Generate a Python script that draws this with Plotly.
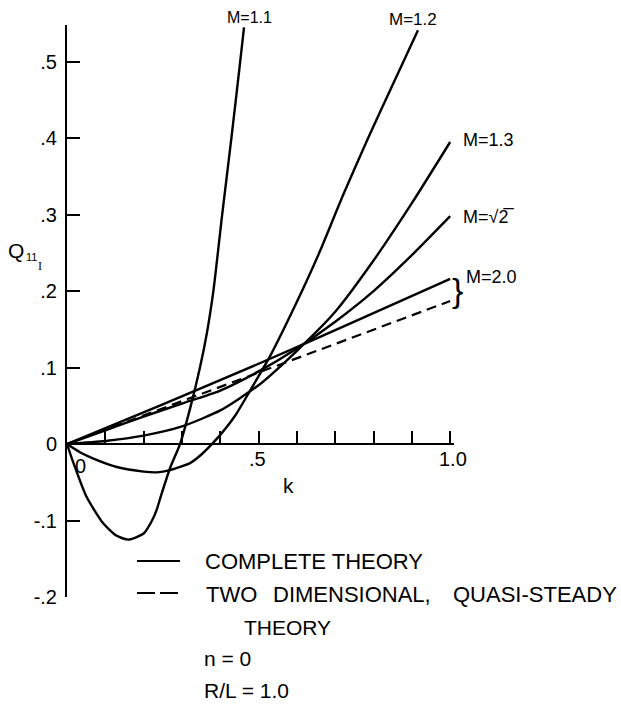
import plotly.graph_objects as go

# Reduced frequency k and generalized force coefficient Q for each Mach number
k_m11 = [0, 0.017, 0.051, 0.095, 0.13, 0.16, 0.2, 0.222, 0.234, 0.245, 0.27, 0.295,
         0.322, 0.347, 0.365, 0.382, 0.405, 0.429, 0.452, 0.462]
q_m11 = [0, -0.025, -0.069, -0.104, -0.12, -0.125, -0.117, -0.1, -0.086, -0.068, -0.03, 0,
         0.048, 0.1, 0.145, 0.2, 0.3, 0.4, 0.5, 0.545]

k_m12 = [0, 0.035, 0.069, 0.13, 0.2, 0.235, 0.269, 0.321, 0.35, 0.378, 0.4, 0.44,
         0.478, 0.53, 0.6, 0.66, 0.72, 0.783, 0.85, 0.916]
q_m12 = [0, -0.011, -0.019, -0.030, -0.036, -0.037, -0.034, -0.025, -0.014, 0, 0.012, 0.038,
         0.07, 0.115, 0.186, 0.252, 0.325, 0.397, 0.47, 0.541]

k_m13 = [0, 0.1, 0.2, 0.3, 0.4, 0.5, 0.6, 0.7, 0.8, 0.9, 1.0]
q_m13 = [0, 0.004, 0.011, 0.023, 0.044, 0.077, 0.122, 0.173, 0.24, 0.315, 0.395]

k_msqrt2 = [0, 0.1, 0.2, 0.3, 0.4, 0.5, 0.6, 0.7, 0.8, 0.9, 1.0]
q_msqrt2 = [0, 0.018, 0.036, 0.053, 0.07, 0.095, 0.125, 0.16, 0.2, 0.247, 0.298]

k_m20 = [0, 0.25, 0.5, 0.75, 1.0]
q_m20 = [0, 0.052, 0.105, 0.16, 0.216]

# Two-dimensional quasi-steady theory, M = 2.0
k_qs20 = [0, 0.5, 1.0]
q_qs20 = [0, 0.094, 0.187]

x_ticks = [0, 0.1, 0.2, 0.3, 0.4, 0.5, 0.6, 0.7, 0.8, 0.9, 1.0]
y_ticks = [-0.2, -0.1, 0, 0.1, 0.2, 0.3, 0.4, 0.5]
y_tick_text = ["-.2", "-.1", "0", ".1", ".2", ".3", ".4", ".5"]

FONT = "Liberation Sans"
INK = "black"

# plot-area geometry in pixels (used to place paper-referenced decorations)
L, T, W, H = 67, 25, 387, 572
Y_RANGE = [-0.2, 0.548]
X_RANGE = [0, 1.01]


def px(xp):
    return (xp - L) / W


def py(yp):
    return (T + H - yp) / H


fig = go.Figure()

solid = dict(color=INK, width=2.4, shape="spline", smoothing=0.6)
for kk, qq in [(k_m11, q_m11), (k_m12, q_m12), (k_m13, q_m13),
               (k_msqrt2, q_msqrt2), (k_m20, q_m20)]:
    fig.add_trace(go.Scatter(x=kk, y=qq, mode="lines", line=solid,
                             showlegend=False, hoverinfo="skip"))

fig.add_trace(go.Scatter(x=k_qs20, y=q_qs20, mode="lines",
                         line=dict(color=INK, width=2.2, dash="10px,6px"),
                         showlegend=False, hoverinfo="skip"))

annotations = []


def label(xp, yp, text, size=18, xanchor="left", family=FONT):
    annotations.append(dict(x=px(xp), y=py(yp), xref="paper", yref="paper", text=text,
                            showarrow=False, xanchor=xanchor, yanchor="middle",
                            borderpad=0,
                            font=dict(family=family, size=size, color=INK)))


# Mach number labels at the curve ends
label(249, 17, "M=1.1", size=16, xanchor="center")
label(413, 19, "M=1.2", size=17, xanchor="center")
label(462, 140, "M=1.3")
label(462, 217, "M=\u221a2\u0305")
label(465, 277, "M=2.0")
label(457, 290, "}", size=34, xanchor="center")

# x-axis tick labels and axis title
label(80, 466, "0", size=20, xanchor="center")
label(257, 459, ".5", size=20, xanchor="center")
label(453, 459, "1.0", size=20, xanchor="center")
label(288, 485, "k", size=21, xanchor="center")

# y-axis title Q with stacked subscripts
label(16, 250, "Q", size=21, xanchor="center")
label(31, 257, "11", size=11, xanchor="center")
label(40, 266, "I", size=12, xanchor="center", family="Liberation Serif")

# key and parameters
label(204, 561, "COMPLETE THEORY", size=22)
label(205, 594, "TWO", size=22)
label(272, 594, "DIMENSIONAL,", size=22)
label(452, 594, "QUASI-STEADY", size=22)
label(243, 627, "THEORY", size=21)
label(203, 658, "n = 0", size=21)
label(203, 690, "R/L = 1.0", size=21)

shapes = [
    dict(type="line", xref="paper", yref="paper", x0=px(137), x1=px(180),
         y0=py(561), y1=py(561), line=dict(color=INK, width=2)),
    dict(type="line", xref="paper", yref="paper", x0=px(137), x1=px(178),
         y0=py(593), y1=py(593), line=dict(color=INK, width=2, dash="18px,5px")),
]

fig.update_layout(
    width=621, height=706,
    margin=dict(l=L, r=621 - L - W, t=T, b=706 - T - H),
    paper_bgcolor="white", plot_bgcolor="white",
    font=dict(family=FONT, color=INK),
    annotations=annotations, shapes=shapes,
    xaxis=dict(range=X_RANGE, showgrid=False, zeroline=False, showline=True,
               linecolor=INK, linewidth=2, ticks="inside", ticklen=12, tickwidth=2,
               tickcolor=INK, tickvals=x_ticks, showticklabels=False,
               anchor="free", position=(0 - Y_RANGE[0]) / (Y_RANGE[1] - Y_RANGE[0])),
    yaxis=dict(range=Y_RANGE, showgrid=False, zeroline=False, showline=True,
               linecolor=INK, linewidth=2, ticks="inside", ticklen=13, tickwidth=2,
               tickcolor=INK, tickvals=y_ticks, ticktext=y_tick_text,
               tickfont=dict(size=20, family=FONT, color=INK), ticklabelstandoff=4),
)

fig.write_html("out.html")
